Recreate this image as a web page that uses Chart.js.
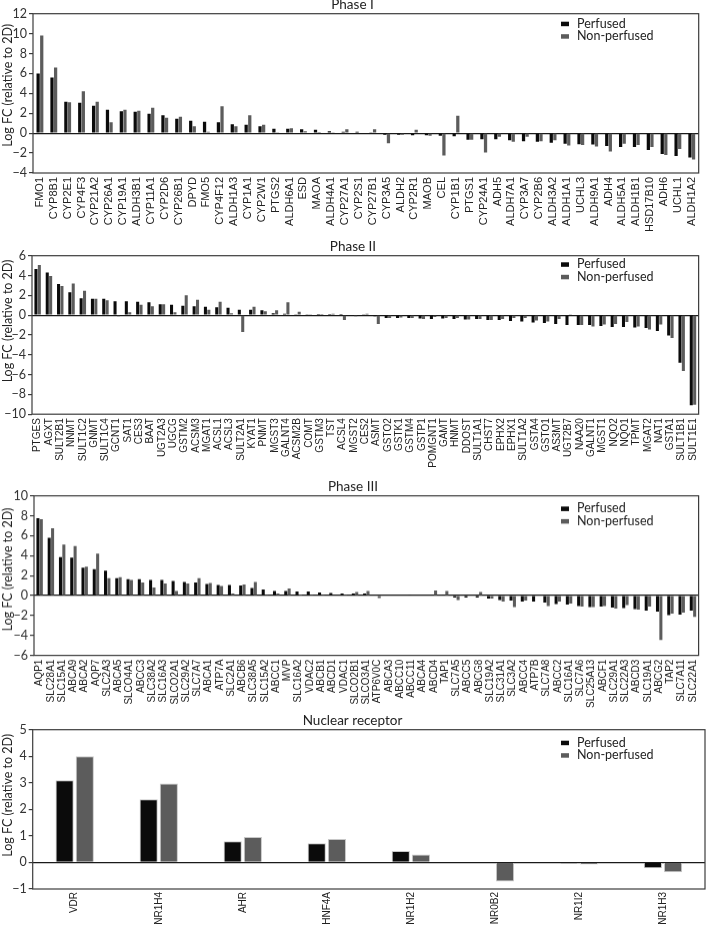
<!DOCTYPE html>
<html>
<head>
<meta charset="utf-8">
<script src="https://cdn.jsdelivr.net/npm/chart.js@4/dist/chart.umd.min.js"></script>
<style>
  body { margin: 0; background: #fff; }
  #wrap { position: relative; width: 709px; height: 928px; overflow: hidden; }
  .panel { position: absolute; left: 0; width: 709px; }
</style>
</head>
<body>
<div id="wrap">
  <div class="panel" style="top:-3.3px;height:236px"><canvas id="p1"></canvas></div>
  <div class="panel" style="top:239.1px;height:230.2px"><canvas id="p2"></canvas></div>
  <div class="panel" style="top:479.4px;height:230.6px"><canvas id="p3"></canvas></div>
  <div class="panel" style="top:712.7px;height:215.3px"><canvas id="p4"></canvas></div>
</div>
<script>
// ---- data ----
const phase1Genes = ['FMO1','CYP8B1','CYP2E1','CYP4F3','CYP21A2','CYP26A1','CYP19A1','ALDH3B1','CYP11A1','CYP2D6',
  'CYP26B1','DPYD','FMO5','CYP4F12','ALDH1A3','CYP1A1','CYP2W1','PTGS2','ALDH6A1','ESD','MAOA','ALDH4A1','CYP27A1',
  'CYP2S1','CYP27B1','CYP3A5','ALDH2','CYP2R1','MAOB','CEL','CYP1B1','PTGS1','CYP24A1','ADH5','ALDH7A1','CYP3A7',
  'CYP2B6','ALDH3A2','ALDH1A1','UCHL3','ALDH9A1','ADH4','ALDH5A1','ALDH1B1','HSD17B10','ADH6','UCHL1','ALDH1A2'];
const phase1Perfused = [6.0,5.6,3.15,3.05,2.75,2.35,2.2,2.15,1.95,1.8,
  1.45,1.25,1.15,1.1,0.9,0.85,0.7,0.45,0.45,0.4,0.35,0.2,0.15,
  0.15,0.05,-0.15,-0.15,-0.2,-0.2,-0.25,-0.3,-0.65,-0.6,-0.6,-0.7,-0.8,
  -0.85,-0.95,-1.05,-1.1,-1.15,-1.3,-1.4,-1.4,-1.7,-2.1,-2.3,-2.45];
const phase1NonPerfused = [9.8,6.6,3.1,4.2,3.15,1.1,2.35,2.25,2.55,1.55,
  1.65,0.7,0.15,2.7,0.7,1.8,0.85,0.05,0.5,0.2,0.02,0.05,0.4,
  -0.05,0.4,-1.0,-0.15,0.35,-0.25,-2.25,1.75,-0.65,-1.95,-0.35,-0.85,-0.35,
  -0.8,-0.7,-1.25,-1.2,-1.35,-1.85,-1.05,-1.2,-1.4,-2.2,-1.6,-2.65];

const phase2Genes = ['PTGES','AGXT','SULT2B1','NNMT','SULT1C2','GNMT','SULT1C4','GCNT1','SAT1','CES3','BAAT','UGT2A3',
  'UGCG','GSTM2','ACSM3','MGAT1','ACSL1','ACSL3','SULT2A1','KYAT1','PNMT','MGST3','GALNT4','ACSM2B','COMT','GSTM3',
  'TST','ACSL4','MGST2','CES2','ASMT','GSTO2','GSTK1','GSTM4','GSTP1','POMGNT1','GAMT','HNMT','DDOST','SULT1A1',
  'CHST7','EPHX2','EPHX1','SULT1A2','GSTA4','GSTO1','AS3MT','UGT2B7','NAA20','GALNT1','MGST1','NQO2','NQO1','TPMT',
  'MGAT2','NAT1','GSTA1','SULT1B1','SULT1E1'];
const phase2Perfused = [4.65,4.3,3.15,2.3,1.7,1.65,1.65,1.4,1.4,1.35,1.3,1.1,
  1.05,0.95,0.9,0.85,0.8,0.75,0.55,0.55,0.5,0.2,0.15,0.05,0.05,0.02,
  0.02,0.02,-0.05,0.05,-0.1,-0.3,-0.3,-0.3,-0.35,-0.4,-0.35,-0.4,-0.45,-0.4,
  -0.5,-0.5,-0.6,-0.65,-0.75,-0.8,-0.9,-1.0,-1.0,-1.0,-1.1,-1.2,-1.2,-1.25,
  -1.3,-1.6,-2.05,-4.8,-9.1];
const phase2NonPerfused = [5.05,3.95,2.95,3.2,2.45,1.65,1.5,-0.1,0.3,1.05,0.9,1.1,
  0.3,2.0,1.55,0.55,1.35,0.2,-1.7,0.85,0.4,0.5,1.3,0.35,0.05,0.02,
  0.15,-0.5,-0.1,0.15,-0.9,-0.3,-0.25,-0.3,-0.4,-0.2,-0.3,-0.3,-0.45,-0.4,
  -0.5,-0.4,-0.3,-0.3,-0.55,-0.65,-0.4,0.05,-1.0,-1.15,-0.95,-0.9,-0.7,-1.15,
  -1.45,-0.95,-2.3,-5.65,-9.05];

const phase3Genes = ['AQP1','SLC28A1','SLC15A1','ABCA9','ABCA2','AQP7','SLC2A3','ABCA5','SLCO4A1','ABCC3','SLC38A2',
  'SLC16A3','SLCO2A1','SLC29A2','SLC7A7','ABCA1','ATP7A','SLC2A1','ABCB6','SLC38A5','SLC15A2','ABCC1','MVP','SLC16A2',
  'VDAC2','ABCB1','ABCD1','VDAC1','SLCO2B1','SLCO3A1','ATP6V0C','ABCA3','ABCC10','ABCC11','ABCA4','ABCD4','TAP1',
  'SLC7A5','ABCC5','ABCG8','SLC19A2','SLC31A1','SLC3A2','ABCC4','ATP7B','SLC7A8','ABCC2','SLC16A1','SLC7A6','SLC25A13',
  'ABCF1','SLC29A1','SLC22A3','ABCD3','SLC19A1','ABCG2','TAP2','SLC7A11','SLC22A1'];
const phase3Perfused = [7.75,5.8,3.85,3.8,2.8,2.65,2.5,1.75,1.65,1.65,1.55,
  1.55,1.45,1.35,1.3,1.15,1.05,1.05,1.0,0.75,0.6,0.45,0.45,0.4,
  0.4,0.3,0.25,0.2,0.2,0.2,0.05,-0.05,-0.05,0.02,-0.05,0.02,0.02,
  -0.2,-0.2,-0.2,-0.3,-0.45,-0.5,-0.6,-0.6,-0.7,-0.85,-0.9,-1.05,-1.15,
  -1.1,-1.2,-1.25,-1.35,-1.5,-1.6,-1.95,-1.9,-1.5];
const phase3NonPerfused = [7.65,6.75,5.1,4.95,2.9,4.2,1.75,1.85,1.55,1.3,0.8,
  1.2,0.45,1.2,1.75,1.25,0.95,0.2,1.1,1.35,0.02,0.2,0.7,0.1,
  0.02,0.02,0.05,0.02,0.35,0.45,-0.25,-0.05,-0.05,-0.05,-0.05,0.5,0.45,
  -0.45,-0.05,0.35,-0.3,-0.6,-1.15,-0.5,-0.05,-1.05,-0.6,-0.8,-1.1,-1.15,
  -1.05,-1.3,-0.95,-1.4,-1.1,-4.45,-1.8,-1.7,-2.15];

const nrGenes = ['VDR','NR1H4','AHR','HNF4A','NR1H2','NR0B2','NR1I2','NR1H3'];
const nrPerfused = [3.1,2.38,0.8,0.72,0.43,0.0,-0.04,-0.22];
const nrNonPerfused = [4.0,2.97,0.96,0.88,0.3,-0.72,-0.08,-0.37];

const seriesNames = ['Perfused','Non-perfused'];
const yAxisTitle = 'Log FC (relative to 2D)';
// ---------------

const uiFont = 'Lato, "Open Sans", sans-serif';

const framePlugin = {
  id: 'frame',
  afterDraw(chart) {
    const a = chart.chartArea, c = chart.ctx;
    c.save();
    c.strokeStyle = '#3c3c3c';
    c.lineWidth = 1.2;
    c.strokeRect(a.left, a.top, a.right - a.left, a.bottom - a.top);
    c.restore();
  }
};

// legend inside the plot box, top right
const boxLegend = {
  id: 'boxLegend',
  afterDraw(chart, args, opts) {
    const c = chart.ctx, a = chart.chartArea;
    c.save();
    c.font = '12.5px ' + uiFont;
    c.textBaseline = 'middle';
    chart.data.datasets.forEach((ds, i) => {
      const y = a.top + opts.dy + i * opts.gap;
      c.fillStyle = ds.backgroundColor;
      c.fillRect(opts.x, y - 2, 8, 4.5);
      c.fillStyle = '#222';
      c.fillText(ds.label, opts.x + 16, y);
    });
    c.restore();
  }
};

// y axis title, sits a bit above the middle of the box like in the figure
const yTitle = {
  id: 'yTitle',
  afterDraw(chart, args, opts) {
    const c = chart.ctx, a = chart.chartArea;
    c.save();
    c.translate(opts.x, (a.top + a.bottom) / 2 + opts.dy);
    c.rotate(-Math.PI / 2);
    c.font = opts.size + 'px ' + uiFont;
    c.fillStyle = '#222';
    c.textAlign = 'center';
    c.textBaseline = 'middle';
    c.fillText(yAxisTitle, 0, 0);
    c.restore();
  }
};

function makeChart(id, cfg) {
  return new Chart(document.getElementById(id), {
    type: 'bar',
    data: {
      labels: cfg.labels,
      datasets: [
        { label: seriesNames[0], data: cfg.a, backgroundColor: '#0b0b0b',
          borderColor: cfg.border || '#0b0b0b', borderWidth: cfg.border ? 1 : 0,
          categoryPercentage: cfg.cat, barPercentage: cfg.bar },
        { label: seriesNames[1], data: cfg.b, backgroundColor: '#5c5c5c',
          borderColor: cfg.border || '#5c5c5c', borderWidth: cfg.border ? 1 : 0,
          categoryPercentage: cfg.cat, barPercentage: cfg.bar }
      ]
    },
    options: {
      responsive: true,
      maintainAspectRatio: false,
      animation: false,
      layout: { padding: { left: 0, right: cfg.padRight, top: 0, bottom: 0 } },
      plugins: {
        legend: { display: false },
        tooltip: { enabled: false },
        title: {
          display: true, text: cfg.title, color: '#222',
          font: { family: uiFont, size: 13.5, weight: 'normal' },
          padding: { top: 0, bottom: 0.5 }
        },
        boxLegend: { x: 561, dy: cfg.legDy, gap: 12.5 },
        yTitle: { x: 7.5, dy: cfg.titleDy, size: 12.5 }
      },
      scales: {
        x: {
          grid: { display: false, drawTicks: false, tickLength: 0 },
          border: { display: false },
          ticks: {
            autoSkip: false, maxRotation: 90, minRotation: 90, padding: cfg.xPad,
            color: '#222',
            font: { family: '"Liberation Sans", Arial, sans-serif', size: cfg.xFont }
          },
          afterFit: s => { s.height = cfg.xHeight; }
        },
        y: {
          min: cfg.min, max: cfg.max,
          border: { display: false },
          grid: {
            color: c => c.tick && c.tick.value === 0 ? '#1a1a1a' : 'rgba(0,0,0,0)',
            lineWidth: 1.2,
            tickColor: '#3c3c3c', tickLength: 4
          },
          ticks: {
            stepSize: cfg.step, padding: 2, color: '#333',
            font: { family: uiFont, size: 12.5 },
            callback: v => String(v).replace('-', '\u2212')
          },
          afterFit: s => { s.width = cfg.yWidth; }
        }
      }
    },
    plugins: [framePlugin, boxLegend, yTitle]
  });
}

makeChart('p1', { title: 'Phase I', labels: phase1Genes, a: phase1Perfused, b: phase1NonPerfused,
  min: -4, max: 12, step: 2, yWidth: 33, padRight: 4, xHeight: 60, xFont: 11, xPad: 4, cat: 0.52, bar: 0.9,
  legDy: 10, titleDy: -8 });
makeChart('p2', { title: 'Phase II', labels: phase2Genes, a: phase2Perfused, b: phase2NonPerfused,
  min: -10, max: 6, step: 2, yWidth: 32, padRight: 3, xHeight: 55, xFont: 10, xPad: 4, cat: 0.6, bar: 0.9,
  legDy: 8.6, titleDy: -14 });
makeChart('p3', { title: 'Phase III', labels: phase3Genes, a: phase3Perfused, b: phase3NonPerfused,
  min: -6, max: 10, step: 2, yWidth: 34, padRight: 3, xHeight: 55, xFont: 10, xPad: 4, cat: 0.6, bar: 0.9,
  legDy: 12.7, titleDy: -6 });
makeChart('p4', { title: 'Nuclear receptor', labels: nrGenes, a: nrPerfused, b: nrNonPerfused,
  min: -1, max: 5, step: 1, yWidth: 32.7, padRight: 4, xHeight: 39.3, xFont: 10, xPad: 3, cat: 0.48, bar: 0.9,
  legDy: 13, titleDy: -14, border: '#c8c8c8' });
</script>
</body>
</html>
